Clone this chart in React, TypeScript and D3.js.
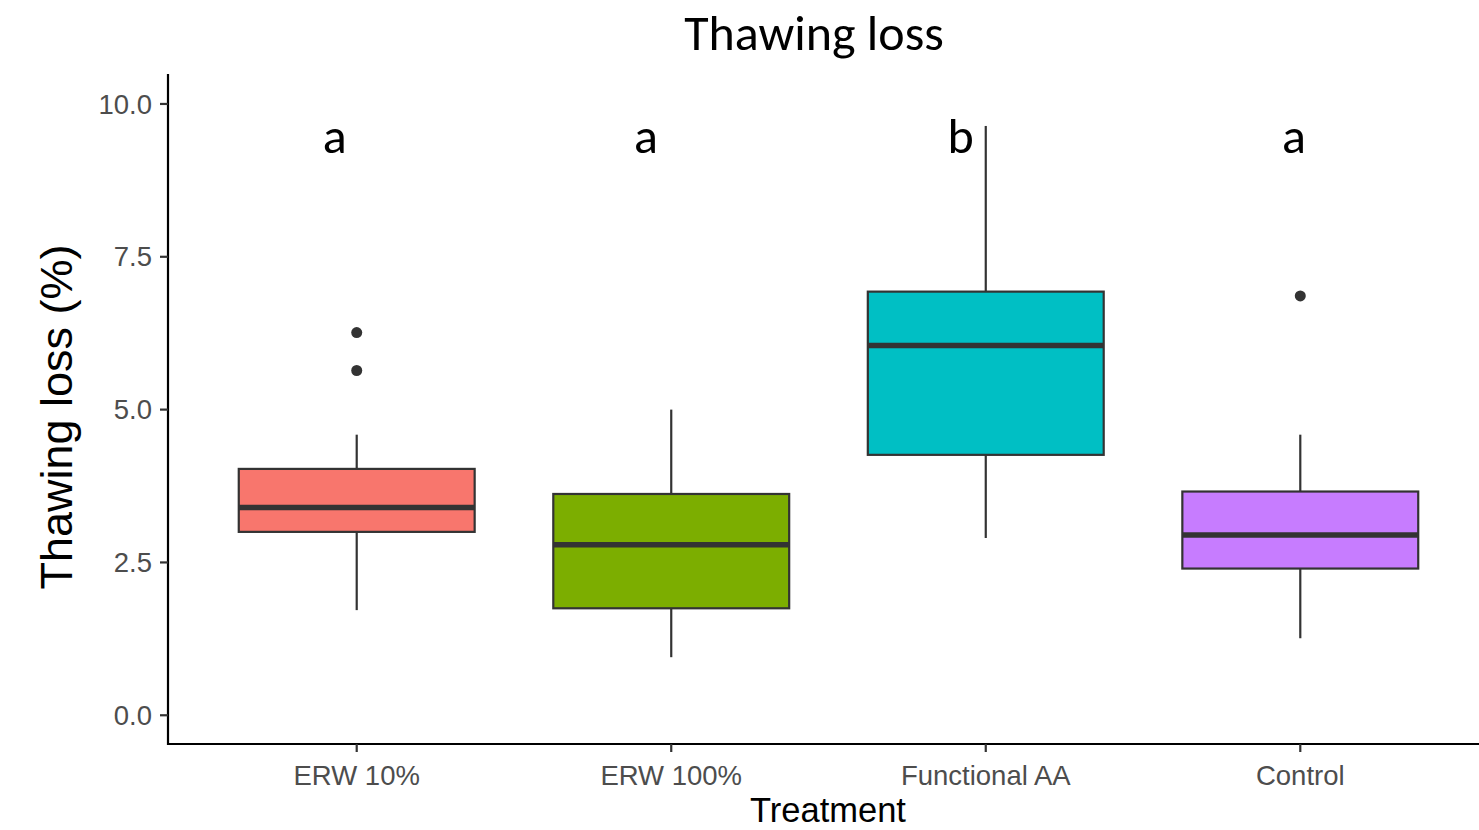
import React from "react";
import * as d3 from "d3";

// Treatment groups and their box-plot summaries (thawing loss, %)
const treatments = ["ERW 10%", "ERW 100%", "Functional AA", "Control"];
const whiskerLow = [1.72, 0.95, 2.9, 1.26];
const q1 = [3.0, 1.75, 4.26, 2.4];
const median = [3.4, 2.79, 6.05, 2.95];
const q3 = [4.03, 3.62, 6.93, 3.66];
const whiskerHigh = [4.59, 5.0, 9.64, 4.59];
const outliers: number[][] = [[6.26, 5.64], [], [], [6.86]];
const fills = ["#F8766D", "#7CAE00", "#00BFC4", "#C77CFF"];

// Significance letters, placed in category units (1-based) at a common height
const sigLetters = ["a", "a", "b", "a"];
const sigLetterX = [0.93, 1.92, 2.92, 3.98];
const sigLetterY = 9.2;

const yTicks = [0, 2.5, 5, 7.5, 10];

const W = 1479;
const H = 830;
const panel = { left: 168, right: 1489, top: 74, bottom: 744 };

export default function App() {
  const x = d3
    .scaleLinear()
    .domain([0.4, treatments.length + 0.6])
    .range([panel.left, panel.right]);
  const y = d3.scaleLinear().domain([-0.47, 10.49]).range([panel.bottom, panel.top]);
  const boxHalf = ((x(2) - x(1)) * 0.75) / 2;
  const ink = "#333333";
  const tickFont = "'Liberation Sans', Arial, sans-serif";
  const noteFont = "Carlito, Calibri, Lato, 'Open Sans', sans-serif";

  return (
    <svg
      width={W}
      height={H}
      style={{ position: "absolute", left: 0, top: 0, background: "#fff" }}
    >
      <rect x={0} y={0} width={W} height={H} fill="#fff" />

      {/* boxes */}
      {treatments.map((t, i) => {
        const cx = x(i + 1);
        return (
          <g key={t}>
            <line x1={cx} x2={cx} y1={y(q3[i])} y2={y(whiskerHigh[i])} stroke={ink} strokeWidth={2.2} />
            <line x1={cx} x2={cx} y1={y(q1[i])} y2={y(whiskerLow[i])} stroke={ink} strokeWidth={2.2} />
            <rect
              x={cx - boxHalf}
              y={y(q3[i])}
              width={boxHalf * 2}
              height={y(q1[i]) - y(q3[i])}
              fill={fills[i]}
              stroke={ink}
              strokeWidth={2.2}
            />
            <line
              x1={cx - boxHalf}
              x2={cx + boxHalf}
              y1={y(median[i])}
              y2={y(median[i])}
              stroke={ink}
              strokeWidth={5.5}
            />
            {outliers[i].map((v, j) => (
              <circle key={j} cx={cx} cy={y(v)} r={5.5} fill={ink} />
            ))}
          </g>
        );
      })}

      {/* significance letters */}
      {sigLetters.map((l, i) => (
        <text
          key={i}
          x={x(sigLetterX[i])}
          y={y(sigLetterY)}
          textAnchor="middle"
          fontFamily={noteFont}
          fontSize={50}
          fill="#000"
        >
          {l}
        </text>
      ))}

      {/* axes */}
      <line x1={panel.left} x2={panel.left} y1={panel.top} y2={panel.bottom + 1} stroke="#000" strokeWidth={2.2} />
      <line x1={panel.left - 1} x2={W} y1={panel.bottom} y2={panel.bottom} stroke="#000" strokeWidth={2.2} />

      {yTicks.map((v) => (
        <g key={v}>
          <line x1={panel.left - 8} x2={panel.left} y1={y(v)} y2={y(v)} stroke={ink} strokeWidth={2.2} />
          <text
            x={panel.left - 16}
            y={y(v)}
            dy="0.35em"
            textAnchor="end"
            fontFamily={tickFont}
            fontSize={27.5}
            fill="#4D4D4D"
          >
            {d3.format(".1f")(v)}
          </text>
        </g>
      ))}

      {treatments.map((t, i) => (
        <g key={t}>
          <line x1={x(i + 1)} x2={x(i + 1)} y1={panel.bottom} y2={panel.bottom + 8} stroke={ink} strokeWidth={2.2} />
          <text
            x={x(i + 1)}
            y={785}
            textAnchor="middle"
            fontFamily={tickFont}
            fontSize={27.5}
            fill="#4D4D4D"
          >
            {t}
          </text>
        </g>
      ))}

      {/* titles */}
      <text x={814} y={50} textAnchor="middle" fontFamily={noteFont} fontSize={50} fill="#000">
        Thawing loss
      </text>
      <text
        transform={`translate(72, 417) rotate(-90)`}
        textAnchor="middle"
        fontFamily={tickFont}
        fontSize={45}
        fill="#000"
      >
        Thawing loss (%)
      </text>
      <text x={828} y={822} textAnchor="middle" fontFamily={tickFont} fontSize={34.5} fill="#000">
        Treatment
      </text>
    </svg>
  );
}
